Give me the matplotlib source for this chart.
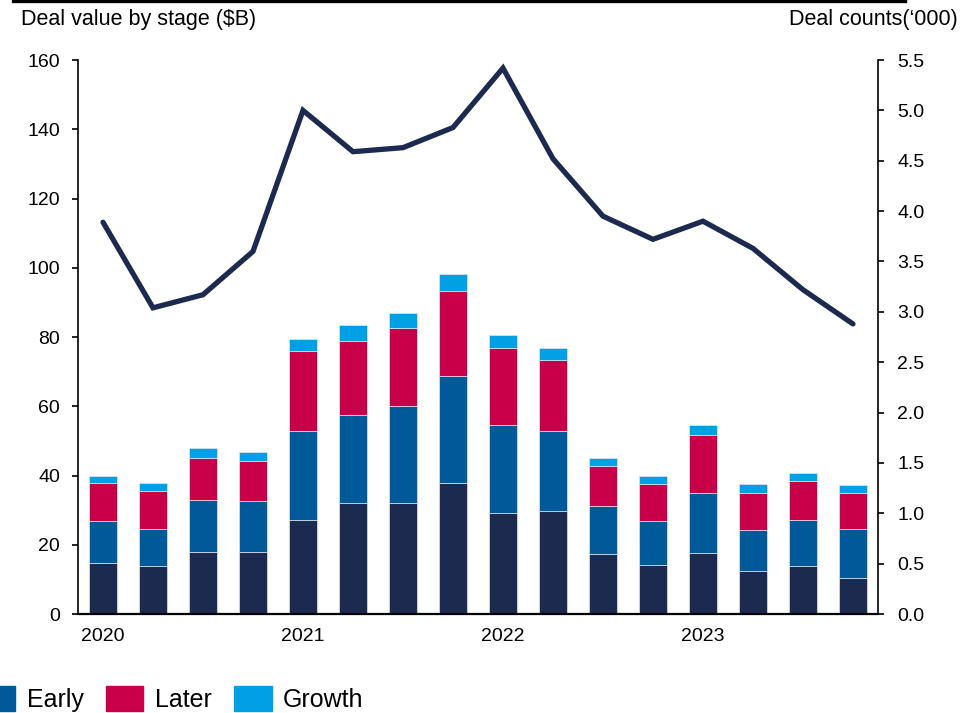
import matplotlib
matplotlib.use("Agg")
import matplotlib.pyplot as plt
from matplotlib.lines import Line2D
from matplotlib.patches import Patch

plt.rcParams['font.family'] = ['Liberation Sans', 'DejaVu Sans']

# quarterly deal value by stage ($B), 2020 Q1 - 2023 Q4
quarters = list(range(16))
year_ticks = [0, 4, 8, 12]
year_labels = ["2020", "2021", "2022", "2023"]

seed = [14.6, 13.8, 18.0, 18.0, 27.3, 32.0, 32.2, 37.7,
        29.1, 29.7, 17.2, 14.1, 17.5, 12.3, 13.8, 10.3]
early = [12.4, 10.7, 15.0, 14.7, 25.5, 25.6, 27.9, 31.0,
         25.5, 23.3, 13.9, 12.8, 17.4, 12.1, 13.3, 14.2]
later = [10.9, 11.1, 12.1, 11.5, 23.1, 21.3, 22.4, 24.7,
         22.3, 20.4, 11.7, 10.6, 16.9, 10.7, 11.4, 10.6]
growth = [2.1, 2.1, 2.9, 2.6, 3.6, 4.5, 4.3, 4.7,
          3.6, 3.4, 2.2, 2.3, 2.8, 2.4, 2.3, 2.2]

# deal counts in thousands
deal_counts = [3.89, 3.04, 3.17, 3.60, 5.00, 4.59, 4.63, 4.83,
               5.42, 4.52, 3.95, 3.72, 3.90, 3.63, 3.22, 2.88]

c_seed = "#1B2A4E"
c_early = "#005A9A"
c_later = "#C8004A"
c_growth = "#00A0E6"

fig = plt.figure(figsize=(9.6, 7.13), dpi=100)
ax = fig.add_axes([0.08125, 0.1388, 0.8333, 0.777])

bar_kw = dict(width=0.56, edgecolor="#dfe6ef", linewidth=0.5)
b1 = seed
b2 = [a + b for a, b in zip(b1, early)]
b3 = [a + b for a, b in zip(b2, later)]
ax.bar(quarters, seed, color=c_seed, **bar_kw)
ax.bar(quarters, early, bottom=b1, color=c_early, **bar_kw)
ax.bar(quarters, later, bottom=b2, color=c_later, **bar_kw)
ax.bar(quarters, growth, bottom=b3, color=c_growth, **bar_kw)

ax.set_xlim(-0.5, 15.5)
ax.set_ylim(0, 160)
ax.set_yticks(range(0, 161, 20))
ax.set_xticks(year_ticks)
ax.set_xticklabels(year_labels)
ax.tick_params(axis='x', length=0, pad=10, labelsize=14)
ax.tick_params(axis='y', direction='out', length=4, width=1.2, pad=9, labelsize=14)
ax.spines['top'].set_visible(False)
ax.spines['right'].set_visible(False)
ax.spines['left'].set_linewidth(1.2)
ax.spines['bottom'].set_linewidth(1.6)

ax2 = ax.twinx()
ax2.plot(quarters, deal_counts, color=c_seed, linewidth=3.8,
         solid_capstyle='round', solid_joinstyle='miter')
ax2.set_ylim(0, 5.5)
ax2.set_yticks([i * 0.5 for i in range(12)])
ax2.yaxis.set_major_formatter(matplotlib.ticker.FormatStrFormatter('%.1f'))
ax2.tick_params(axis='y', direction='out', length=4, width=1.2, pad=10, labelsize=14)
for s in ['top', 'left', 'bottom']:
    ax2.spines[s].set_visible(False)
ax2.spines['right'].set_linewidth(1.2)

fig.text(0.022, 0.988, "Deal value by stage ($B)", fontsize=15.5, va='top', ha='left')
fig.text(0.998, 0.988, "Deal counts(\u2018000)", fontsize=15.5, va='top', ha='right')

# rule under the header
fig.add_artist(Line2D([13 / 960, 905 / 960], [0.998, 0.998],
                      transform=fig.transFigure, color='black', linewidth=2.4))

handles = [Patch(color=c_early, label="Early"),
           Patch(color=c_later, label="Later"),
           Patch(color=c_growth, label="Growth")]
fig.legend(handles=handles, loc='center left', bbox_to_anchor=(-0.0465, 0.02),
           ncol=3, frameon=False, fontsize=18, handlelength=1.5,
           handleheight=1.2, handletextpad=0.45, columnspacing=0.9)

fig.savefig("out.png", dpi=100)
